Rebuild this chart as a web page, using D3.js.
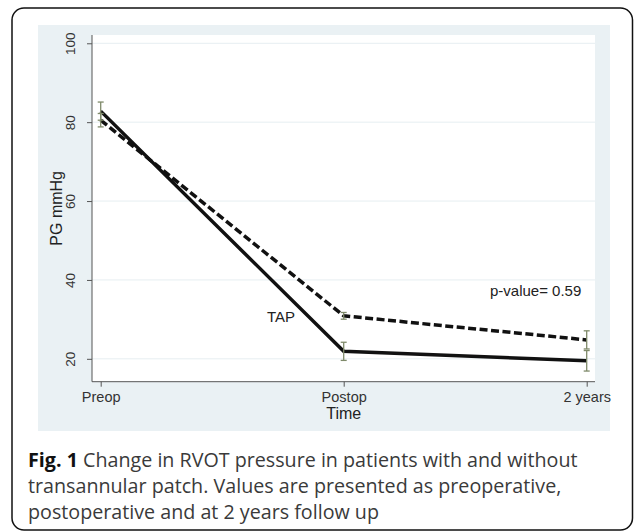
<!DOCTYPE html>
<html>
<head>
<meta charset="utf-8">
<script src="https://cdn.jsdelivr.net/npm/d3@7"></script>
<style>
  body { margin: 0; background: #fff; }
  svg { display: block; }
</style>
</head>
<body>
<svg id="chart" width="634" height="532"></svg>
<script>
  // ── Data ──
  const timepoints = ['Preop', 'Postop', '2 years'];
  const tapMean    = [82.8, 21.9, 19.5];
  const tapErr     = [2.3, 2.3, 2.6];
  const noTapMean  = [80.5, 30.9, 24.8];
  const noTapErr   = [1.7, 0.85, 2.3];
  const yTicks     = [20, 40, 60, 80, 100];

  const svg = d3.select('#chart');

  // ── Frame ──
  svg.append('rect')
    .attr('x', 12).attr('y', 8).attr('width', 620.5).attr('height', 522)
    .attr('rx', 12).attr('ry', 12)
    .attr('fill', '#fff').attr('stroke', '#111').attr('stroke-width', 1.5);

  // Stata-style panel
  svg.append('rect')
    .attr('x', 38).attr('y', 25).attr('width', 572).attr('height', 406)
    .attr('fill', '#eaf1f4');

  const plot = { left: 92, right: 595, top: 35, bottom: 381.7 };
  svg.append('rect')
    .attr('x', plot.left).attr('y', plot.top)
    .attr('width', plot.right - plot.left).attr('height', plot.bottom - plot.top)
    .attr('fill', '#fff');

  // ── Scales ──
  const x = d3.scalePoint().domain(timepoints).range([100.7, 586.7]);
  const xi = d3.scaleLinear().domain([0, 2]).range([100.7, 586.7]);
  const y = d3.scaleLinear().domain([14.2, 102.1]).range([plot.bottom, plot.top]);

  // Gridlines
  svg.append('g')
    .selectAll('line')
    .data(yTicks)
    .join('line')
    .attr('x1', plot.left).attr('x2', plot.right)
    .attr('y1', d => y(d)).attr('y2', d => y(d))
    .attr('stroke', '#e6eef1').attr('stroke-width', 1);

  // ── Axes ──
  const yAxis = svg.append('g')
    .attr('transform', `translate(${plot.left},0)`)
    .call(d3.axisLeft(y).tickValues(yTicks).tickSize(5).tickSizeOuter(0));
  yAxis.select('.domain').attr('stroke', '#555').attr('d', `M0,${plot.top}V${plot.bottom}`);
  yAxis.selectAll('.tick line').attr('stroke', '#555');
  yAxis.selectAll('.tick text')
    .attr('transform', 'rotate(-90)')
    .attr('x', 0).attr('y', -17).attr('dy', 0)
    .attr('text-anchor', 'middle')
    .attr('fill', '#333')
    .style('font', '13.5px "Liberation Sans", Arial, sans-serif');

  const xAxis = svg.append('g')
    .attr('transform', `translate(0,${plot.bottom})`)
    .call(d3.axisBottom(x).tickSize(5).tickSizeOuter(0));
  xAxis.select('.domain').attr('stroke', '#555').attr('d', `M${plot.left},0H${plot.right}`);
  xAxis.selectAll('.tick line').attr('stroke', '#555');
  xAxis.selectAll('.tick text')
    .attr('y', 20).attr('dy', 0)
    .attr('fill', '#333')
    .style('font', '14.5px "Liberation Sans", Arial, sans-serif');

  // Axis titles
  svg.append('text')
    .attr('x', x('Postop')).attr('y', 419)
    .attr('text-anchor', 'middle')
    .attr('fill', '#222')
    .style('font', '16px "Liberation Sans", Arial, sans-serif')
    .text('Time');

  svg.append('text')
    .attr('transform', `translate(62,${(plot.top + plot.bottom) / 2}) rotate(-90)`)
    .attr('text-anchor', 'middle')
    .attr('fill', '#222')
    .style('font', '16px "Liberation Sans", Arial, sans-serif')
    .text('PG mmHg');

  // ── Lines ──
  const line = d3.line()
    .x((d, i) => x(timepoints[i]))
    .y(d => y(d));

  svg.append('path')
    .datum(noTapMean)
    .attr('d', line)
    .attr('fill', 'none')
    .attr('stroke', '#111').attr('stroke-width', 3.5)
    .attr('stroke-dasharray', '8 3.5');

  svg.append('path')
    .datum(tapMean)
    .attr('d', line)
    .attr('fill', 'none')
    .attr('stroke', '#111').attr('stroke-width', 3.5);

  // ── Error bars ──
  const errColor = '#7f8a6a';
  function drawErr(means, errs) {
    const g = svg.append('g').attr('stroke', errColor).attr('stroke-width', 1.3).attr('fill', 'none');
    means.forEach((m, i) => {
      const cx = x(timepoints[i]);
      const y1 = y(m + errs[i]), y2 = y(m - errs[i]);
      g.append('line').attr('x1', cx).attr('x2', cx).attr('y1', y1).attr('y2', y2);
      g.append('line').attr('x1', cx - 3).attr('x2', cx + 3).attr('y1', y1).attr('y2', y1);
      g.append('line').attr('x1', cx - 3).attr('x2', cx + 3).attr('y1', y2).attr('y2', y2);
    });
  }
  drawErr(tapMean, tapErr);
  drawErr(noTapMean, noTapErr);

  // ── Annotations ──
  svg.append('text')
    .attr('x', xi(0.684)).attr('y', y(29.4))
    .attr('fill', '#222')
    .style('font', '15px "Liberation Sans", Arial, sans-serif')
    .text('TAP');

  svg.append('text')
    .attr('x', xi(1.602)).attr('y', y(36.0))
    .attr('fill', '#222')
    .style('font', '15px "Liberation Sans", Arial, sans-serif')
    .text('p-value= 0.59');

  // ── Caption ──
  const caption = svg.append('g')
    .attr('fill', '#3a3a3a')
    .style('font', '19.7px "Open Sans", "Liberation Sans", sans-serif');

  const l1 = caption.append('text').attr('x', 28).attr('y', 466.5);
  l1.append('tspan').attr('font-weight', 'bold').attr('fill', '#111').text('Fig. 1');
  l1.append('tspan').text(' Change in RVOT pressure in patients with and without');
  caption.append('text').attr('x', 28).attr('y', 493)
    .text('transannular patch. Values are presented as preoperative,');
  caption.append('text').attr('x', 28).attr('y', 519)
    .text('postoperative and at 2 years follow up');
</script>
</body>
</html>
